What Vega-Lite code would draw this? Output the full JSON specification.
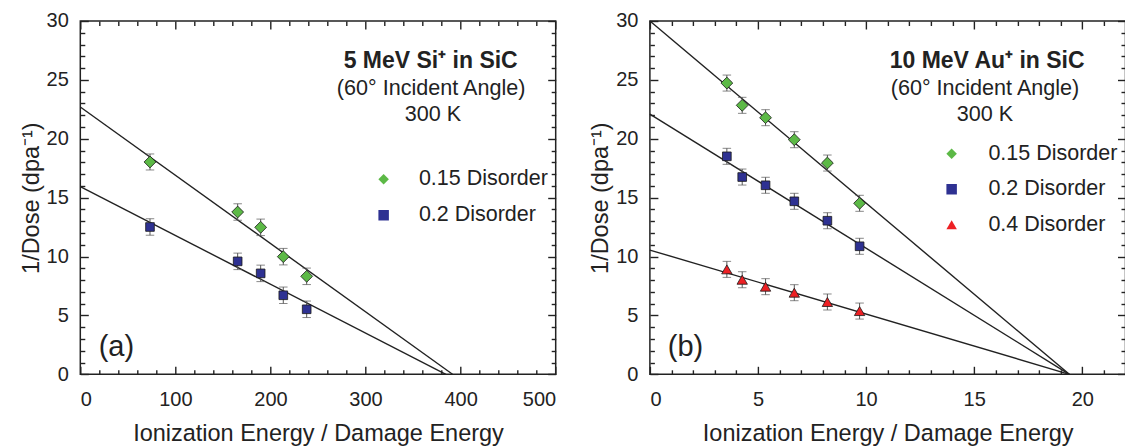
{
  "$schema": "https://vega.github.io/schema/vega-lite/v6.json",
  "padding": {"left": 18.3, "top": 10, "right": 0, "bottom": 0},
  "config": {
    "font": "Liberation Sans",
    "view": {"stroke": "#222", "strokeWidth": 1.5},
    "axis": {"grid": false, "domain": false, "ticks": true, "labelFont": "Liberation Sans", "titleFont": "Liberation Sans", "labelFontSize": 20, "titleFontSize": 23.5, "titleFontWeight": "normal", "labelColor": "#222", "titleColor": "#222", "tickColor": "#222", "tickWidth": 1.4},
    "text": {"font": "Liberation Sans", "color": "#222"}
  },
  "datasets": {
    "leftPts": [
      {"series": "0.15 Disorder", "x": 73.3, "y": 18.03, "lo": 17.35, "hi": 18.71},
      {"series": "0.15 Disorder", "x": 165.5, "y": 13.78, "lo": 13.08, "hi": 14.48},
      {"series": "0.15 Disorder", "x": 189.7, "y": 12.48, "lo": 11.78, "hi": 13.18},
      {"series": "0.15 Disorder", "x": 213.5, "y": 9.99, "lo": 9.29, "hi": 10.69},
      {"series": "0.15 Disorder", "x": 238.1, "y": 8.32, "lo": 7.62, "hi": 9.02},
      {"series": "0.2 Disorder", "x": 73.3, "y": 12.51, "lo": 11.81, "hi": 13.21},
      {"series": "0.2 Disorder", "x": 165.5, "y": 9.59, "lo": 8.89, "hi": 10.29},
      {"series": "0.2 Disorder", "x": 189.7, "y": 8.57, "lo": 7.87, "hi": 9.27},
      {"series": "0.2 Disorder", "x": 213.5, "y": 6.71, "lo": 6.01, "hi": 7.41},
      {"series": "0.2 Disorder", "x": 238.1, "y": 5.52, "lo": 4.82, "hi": 6.22}
    ],
    "leftFit": [
      {"series": "0.15 Disorder", "x": 0, "y": 22.7},
      {"series": "0.15 Disorder", "x": 391.5, "y": 0},
      {"series": "0.2 Disorder", "x": 0, "y": 15.93},
      {"series": "0.2 Disorder", "x": 384.5, "y": 0}
    ],
    "leftTitle": [{"x": 368.5, "y": 26.6, "label": "5 MeV Si⁺ in SiC"}],
    "leftSub": [
      {"x": 369, "y": 24.25, "label": "(60° Incident Angle)"},
      {"x": 371, "y": 22.0, "label": "300 K"}
    ],
    "leftTag": [{"x": 38, "y": 2.33, "label": "(a)"}],
    "rightPts": [
      {"series": "0.15 Disorder", "x": 3.56, "y": 24.73, "lo": 24.05, "hi": 25.41},
      {"series": "0.15 Disorder", "x": 4.27, "y": 22.84, "lo": 22.16, "hi": 23.52},
      {"series": "0.15 Disorder", "x": 5.35, "y": 21.79, "lo": 21.11, "hi": 22.47},
      {"series": "0.15 Disorder", "x": 6.68, "y": 19.92, "lo": 19.24, "hi": 20.6},
      {"series": "0.15 Disorder", "x": 8.21, "y": 17.94, "lo": 17.26, "hi": 18.62},
      {"series": "0.15 Disorder", "x": 9.7, "y": 14.52, "lo": 13.84, "hi": 15.2},
      {"series": "0.2 Disorder", "x": 3.56, "y": 18.51, "lo": 17.83, "hi": 19.19},
      {"series": "0.2 Disorder", "x": 4.27, "y": 16.75, "lo": 16.07, "hi": 17.43},
      {"series": "0.2 Disorder", "x": 5.35, "y": 16.05, "lo": 15.37, "hi": 16.73},
      {"series": "0.2 Disorder", "x": 6.68, "y": 14.69, "lo": 14.01, "hi": 15.37},
      {"series": "0.2 Disorder", "x": 8.21, "y": 13.04, "lo": 12.36, "hi": 13.72},
      {"series": "0.2 Disorder", "x": 9.7, "y": 10.87, "lo": 10.19, "hi": 11.55},
      {"series": "0.4 Disorder", "x": 3.56, "y": 8.91, "lo": 8.23, "hi": 9.59},
      {"series": "0.4 Disorder", "x": 4.27, "y": 8.03, "lo": 7.35, "hi": 8.71},
      {"series": "0.4 Disorder", "x": 5.35, "y": 7.44, "lo": 6.76, "hi": 8.12},
      {"series": "0.4 Disorder", "x": 6.68, "y": 6.93, "lo": 6.25, "hi": 7.61},
      {"series": "0.4 Disorder", "x": 8.21, "y": 6.14, "lo": 5.46, "hi": 6.82},
      {"series": "0.4 Disorder", "x": 9.7, "y": 5.37, "lo": 4.69, "hi": 6.05}
    ],
    "rightFit": [
      {"series": "0.15 Disorder", "x": 0, "y": 30},
      {"series": "0.15 Disorder", "x": 19.4, "y": 0},
      {"series": "0.2 Disorder", "x": 0, "y": 22.1},
      {"series": "0.2 Disorder", "x": 19.4, "y": 0},
      {"series": "0.4 Disorder", "x": 0, "y": 10.55},
      {"series": "0.4 Disorder", "x": 19.4, "y": 0}
    ],
    "rightTitle": [{"x": 15.6, "y": 26.6, "label": "10 MeV Au⁺ in SiC"}],
    "rightSub": [
      {"x": 15.5, "y": 24.2, "label": "(60° Incident Angle)"},
      {"x": 15.5, "y": 22.0, "label": "300 K"}
    ],
    "rightTag": [{"x": 1.65, "y": 2.33, "label": "(b)"}]
  },
  "hconcat": [
    {
      "width": 475.4,
      "height": 353.3,
      "resolve": {"axis": {"x": "independent", "y": "independent"}},
      "layer": [
        {
          "data": {"name": "leftFit"},
          "mark": {"type": "line", "color": "#222", "strokeWidth": 1.4},
          "encoding": {
            "x": {"field": "x", "type": "quantitative", "scale": {"domain": [0, 500], "nice": false},
              "axis": {"orient": "bottom", "values": [0, 100, 200, 300, 400, 500], "format": "d", "title": "Ionization Energy / Damage Energy", "tickSize": -8, "labelPadding": 23, "titlePadding": 12}},
            "y": {"field": "y", "type": "quantitative", "scale": {"domain": [0, 30], "nice": false},
              "axis": {"orient": "left", "values": [0, 5, 10, 15, 20, 25, 30], "format": "d", "title": "1/Dose (dpa⁻¹)", "tickSize": -8, "labelPadding": 20, "titlePadding": 3}},
            "detail": {"field": "series"}
          }
        },
        {
          "data": {"name": "leftPts"},
          "mark": {"type": "errorbar", "color": "#555", "ticks": {"size": 8.5, "color": "#555"}, "rule": {"strokeWidth": 1}},
          "encoding": {
            "x": {"field": "x", "type": "quantitative", "scale": {"domain": [0, 500], "nice": false}, "axis": null},
            "y": {"field": "lo", "type": "quantitative", "scale": {"domain": [0, 30], "nice": false}, "axis": null},
            "y2": {"field": "hi"}
          }
        },
        {
          "data": {"name": "leftPts"},
          "mark": {"type": "point", "filled": true, "opacity": 1, "stroke": "#1a1a1a", "strokeWidth": 0.8},
          "encoding": {
            "x": {"field": "x", "type": "quantitative", "scale": {"domain": [0, 500], "nice": false},
              "axis": {"orient": "top", "values": [0, 100, 200, 300, 400, 500], "labels": false, "title": null, "tickSize": -8}},
            "y": {"field": "y", "type": "quantitative", "scale": {"domain": [0, 30], "nice": false},
              "axis": {"orient": "right", "values": [0, 5, 10, 15, 20, 25, 30], "labels": false, "title": null, "tickSize": -8}},
            "color": {"field": "series", "type": "nominal", "scale": {"domain": ["0.15 Disorder", "0.2 Disorder"], "range": ["#5cb946", "#2e3192"]},
              "legend": {"orient": "none", "legendX": 292.6, "legendY": 147.5, "title": null, "padding": 0, "labelFontSize": 21.5, "labelFont": "Liberation Sans", "labelColor": "#222", "symbolSize": 110, "rowPadding": 13, "labelOffset": 24.5, "symbolStrokeColor": "#1a1a1a", "symbolStrokeWidth": 0.8, "symbolOpacity": 1}},
            "shape": {"field": "series", "type": "nominal", "scale": {"domain": ["0.15 Disorder", "0.2 Disorder"], "range": ["diamond", "square"]},
              "legend": {"orient": "none", "legendX": 292.6, "legendY": 147.5, "title": null, "padding": 0, "labelFontSize": 21.5, "labelFont": "Liberation Sans", "labelColor": "#222", "symbolSize": 110, "rowPadding": 13, "labelOffset": 24.5, "symbolStrokeColor": "#1a1a1a", "symbolStrokeWidth": 0.8, "symbolOpacity": 1}},
            "size": {"field": "series", "type": "nominal", "scale": {"type": "point", "domain": ["0.2 Disorder", "0.15 Disorder"], "range": [75, 140]}, "legend": null}
          }
        },
        {
          "data": {"name": "leftTitle"},
          "mark": {"type": "text", "fontWeight": "bold", "fontSize": 23, "align": "center", "baseline": "middle"},
          "encoding": {
            "x": {"field": "x", "type": "quantitative", "scale": {"domain": [0, 500], "nice": false},
              "axis": {"orient": "bottom", "values": [20, 40, 60, 80, 120, 140, 160, 180, 220, 240, 260, 280, 320, 340, 360, 380, 420, 440, 460, 480], "labels": false, "title": null, "tickSize": -4.5}},
            "y": {"field": "y", "type": "quantitative", "scale": {"domain": [0, 30], "nice": false},
              "axis": {"orient": "left", "values": [1, 2, 3, 4, 6, 7, 8, 9, 11, 12, 13, 14, 16, 17, 18, 19, 21, 22, 23, 24, 26, 27, 28, 29], "labels": false, "title": null, "tickSize": -4.5}},
            "text": {"field": "label"}
          }
        },
        {
          "data": {"name": "leftSub"},
          "mark": {"type": "text", "fontSize": 21.6, "align": "center", "baseline": "middle"},
          "encoding": {
            "x": {"field": "x", "type": "quantitative", "scale": {"domain": [0, 500], "nice": false},
              "axis": {"orient": "top", "values": [20, 40, 60, 80, 120, 140, 160, 180, 220, 240, 260, 280, 320, 340, 360, 380, 420, 440, 460, 480], "labels": false, "title": null, "tickSize": -4.5}},
            "y": {"field": "y", "type": "quantitative", "scale": {"domain": [0, 30], "nice": false},
              "axis": {"orient": "right", "values": [1, 2, 3, 4, 6, 7, 8, 9, 11, 12, 13, 14, 16, 17, 18, 19, 21, 22, 23, 24, 26, 27, 28, 29], "labels": false, "title": null, "tickSize": -4.5}},
            "text": {"field": "label"}
          }
        },
        {
          "data": {"name": "leftTag"},
          "mark": {"type": "text", "fontSize": 29, "align": "center", "baseline": "middle"},
          "encoding": {
            "x": {"field": "x", "type": "quantitative", "scale": {"domain": [0, 500], "nice": false}, "axis": null},
            "y": {"field": "y", "type": "quantitative", "scale": {"domain": [0, 30], "nice": false}, "axis": null},
            "text": {"field": "label"}
          }
        }
      ]
    },
    {
      "width": 475.6,
      "height": 353.3,
      "resolve": {"axis": {"x": "independent", "y": "independent"}},
      "layer": [
        {
          "data": {"name": "rightFit"},
          "mark": {"type": "line", "color": "#222", "strokeWidth": 1.4},
          "encoding": {
            "x": {"field": "x", "type": "quantitative", "scale": {"domain": [0, 22], "nice": false},
              "axis": {"orient": "bottom", "values": [0, 5, 10, 15, 20], "format": "d", "title": "Ionization Energy / Damage Energy", "tickSize": -8, "labelPadding": 23, "titlePadding": 12}},
            "y": {"field": "y", "type": "quantitative", "scale": {"domain": [0, 30], "nice": false},
              "axis": {"orient": "left", "values": [0, 5, 10, 15, 20, 25, 30], "format": "d", "title": "1/Dose (dpa⁻¹)", "tickSize": -8, "labelPadding": 20, "titlePadding": 3}},
            "detail": {"field": "series"}
          }
        },
        {
          "data": {"name": "rightPts"},
          "mark": {"type": "errorbar", "color": "#555", "ticks": {"size": 8.5, "color": "#555"}, "rule": {"strokeWidth": 1}},
          "encoding": {
            "x": {"field": "x", "type": "quantitative", "scale": {"domain": [0, 22], "nice": false}, "axis": null},
            "y": {"field": "lo", "type": "quantitative", "scale": {"domain": [0, 30], "nice": false}, "axis": null},
            "y2": {"field": "hi"}
          }
        },
        {
          "data": {"name": "rightPts"},
          "mark": {"type": "point", "filled": true, "opacity": 1, "stroke": "#1a1a1a", "strokeWidth": 0.8},
          "encoding": {
            "x": {"field": "x", "type": "quantitative", "scale": {"domain": [0, 22], "nice": false},
              "axis": {"orient": "top", "values": [0, 5, 10, 15, 20], "labels": false, "title": null, "tickSize": -8}},
            "y": {"field": "y", "type": "quantitative", "scale": {"domain": [0, 30], "nice": false},
              "axis": {"orient": "right", "values": [0, 5, 10, 15, 20, 25, 30], "labels": false, "title": null, "tickSize": -8}},
            "color": {"field": "series", "type": "nominal", "scale": {"domain": ["0.15 Disorder", "0.2 Disorder", "0.4 Disorder"], "range": ["#5cb946", "#2e3192", "#ed2024"]},
              "legend": {"orient": "none", "legendX": 291, "legendY": 122, "title": null, "padding": 0, "labelFontSize": 21.5, "labelFont": "Liberation Sans", "labelColor": "#222", "symbolSize": 110, "rowPadding": 12.5, "labelOffset": 26, "symbolStrokeColor": "#1a1a1a", "symbolStrokeWidth": 0.8, "symbolOpacity": 1}},
            "shape": {"field": "series", "type": "nominal", "scale": {"domain": ["0.15 Disorder", "0.2 Disorder", "0.4 Disorder"], "range": ["diamond", "square", "triangle-up"]},
              "legend": {"orient": "none", "legendX": 291, "legendY": 122, "title": null, "padding": 0, "labelFontSize": 21.5, "labelFont": "Liberation Sans", "labelColor": "#222", "symbolSize": 110, "rowPadding": 12.5, "labelOffset": 26, "symbolStrokeColor": "#1a1a1a", "symbolStrokeWidth": 0.8, "symbolOpacity": 1}},
            "size": {"field": "series", "type": "nominal", "scale": {"type": "point", "domain": ["0.2 Disorder", "0.4 Disorder", "0.15 Disorder"], "range": [75, 140]}, "legend": null}
          }
        },
        {
          "data": {"name": "rightTitle"},
          "mark": {"type": "text", "fontWeight": "bold", "fontSize": 23, "align": "center", "baseline": "middle"},
          "encoding": {
            "x": {"field": "x", "type": "quantitative", "scale": {"domain": [0, 22], "nice": false},
              "axis": {"orient": "bottom", "values": [1, 2, 3, 4, 6, 7, 8, 9, 11, 12, 13, 14, 16, 17, 18, 19, 21], "labels": false, "title": null, "tickSize": -4.5}},
            "y": {"field": "y", "type": "quantitative", "scale": {"domain": [0, 30], "nice": false},
              "axis": {"orient": "left", "values": [1, 2, 3, 4, 6, 7, 8, 9, 11, 12, 13, 14, 16, 17, 18, 19, 21, 22, 23, 24, 26, 27, 28, 29], "labels": false, "title": null, "tickSize": -4.5}},
            "text": {"field": "label"}
          }
        },
        {
          "data": {"name": "rightSub"},
          "mark": {"type": "text", "fontSize": 21.6, "align": "center", "baseline": "middle"},
          "encoding": {
            "x": {"field": "x", "type": "quantitative", "scale": {"domain": [0, 22], "nice": false},
              "axis": {"orient": "top", "values": [1, 2, 3, 4, 6, 7, 8, 9, 11, 12, 13, 14, 16, 17, 18, 19, 21], "labels": false, "title": null, "tickSize": -4.5}},
            "y": {"field": "y", "type": "quantitative", "scale": {"domain": [0, 30], "nice": false},
              "axis": {"orient": "right", "values": [1, 2, 3, 4, 6, 7, 8, 9, 11, 12, 13, 14, 16, 17, 18, 19, 21, 22, 23, 24, 26, 27, 28, 29], "labels": false, "title": null, "tickSize": -4.5}},
            "text": {"field": "label"}
          }
        },
        {
          "data": {"name": "rightTag"},
          "mark": {"type": "text", "fontSize": 29, "align": "center", "baseline": "middle"},
          "encoding": {
            "x": {"field": "x", "type": "quantitative", "scale": {"domain": [0, 22], "nice": false}, "axis": null},
            "y": {"field": "y", "type": "quantitative", "scale": {"domain": [0, 30], "nice": false}, "axis": null},
            "text": {"field": "label"}
          }
        }
      ]
    }
  ],
  "spacing": 93.6,
  "bounds": "flush",
  "resolve": {"scale": {"color": "independent", "shape": "independent", "size": "independent"}, "legend": {"color": "independent", "shape": "independent"}}
}
